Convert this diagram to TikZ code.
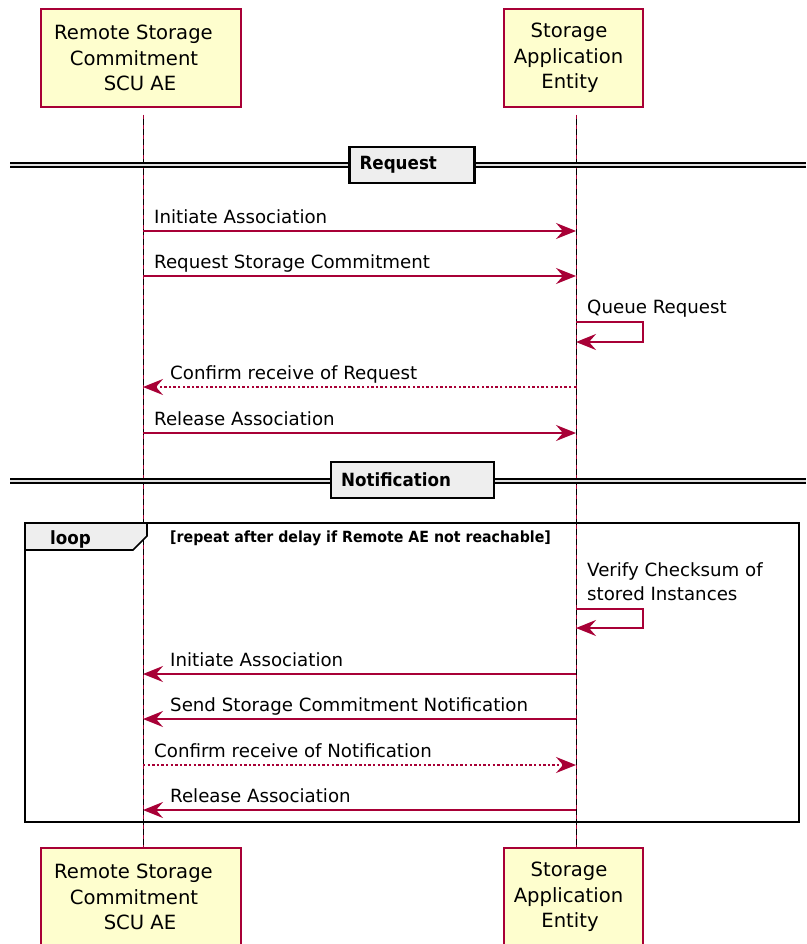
\documentclass[tikz,border=0pt]{standalone}
\usepackage{fontspec}
\setmainfont{DejaVu Sans}
\newfontfamily\cbold{DejaVu Sans Bold}[FakeStretch=0.92]
\usetikzlibrary{arrows.meta}
\definecolor{pu}{HTML}{A80036}
\definecolor{pfill}{HTML}{FEFECE}
\definecolor{dgray}{HTML}{EEEEEE}
\newcommand{\trail}[1]{\rule{#1}{0pt}}
\begin{document}
\begin{tikzpicture}[x=1pt,y=-1pt,
  part/.style={draw=pu, fill=pfill, line width=1.6pt, minimum height=98pt, align=center,
    font=\fontsize{19.6}{25.5}\selectfont, inner sep=0pt},
  lbl/.style={font=\fontsize{18.2}{21}\selectfont, inner sep=0pt, anchor=base west},
  msg/.style={draw=pu, line width=1.5pt, -{Stealth[length=20pt,width=16pt,inset=7pt]}},
  rmsg/.style={msg, dash pattern=on 2.4pt off 2.2pt},
  divbox/.style={draw=black, fill=dgray, line width=2.5pt, minimum height=36pt, inner xsep=10pt,
    align=left, font=\cbold\fontsize{18.2}{21}\selectfont, inner ysep=0pt},
  lifeblack/.style={draw=black, line width=1pt},
  lifered/.style={draw=pu, line width=1pt, dash pattern=on 4pt off 6pt}
]
\useasboundingbox (0,0) rectangle (806,944);
\clip (0,0) rectangle (806,944);
\fill[white] (0,0) rectangle (806,944);

% lifelines
\coordinate (la0) at (143,115);
\coordinate (la1) at (143,848);
\coordinate (lb0) at (576,115);
\coordinate (lb1) at (576,848);
\draw[lifeblack] (la0) -- (la1);
\draw[lifered] (la0) -- (la1);
\draw[lifeblack] (lb0) -- (lb1);
\draw[lifered] (lb0) -- (lb1);

% participants
\node[part, minimum width=200pt] (A) at (141,58) {Remote Storage\trail{15pt}\\Commitment\trail{14pt}\\SCU AE\trail{2pt}};
\node[part, minimum width=139pt] (B) at (573.5,58) {Storage\trail{9pt}\\Application\trail{10pt}\\Entity\trail{7pt}};
\node[part, minimum width=200pt] (A2) at (141,897) {Remote Storage\trail{15pt}\\Commitment\trail{14pt}\\SCU AE\trail{2pt}};
\node[part, minimum width=139pt] (B2) at (573.5,897) {Storage\trail{9pt}\\Application\trail{10pt}\\Entity\trail{7pt}};

% divider: Request
\coordinate (d1l) at (10,163);
\coordinate (d1r) at (806,163);
\coordinate (d1l2) at (10,167);
\coordinate (d1r2) at (806,167);
\fill[gray!25] (d1l) rectangle (d1r2);
\draw[line width=1.2pt] (d1l) -- (d1r);
\draw[line width=1.2pt] (d1l2) -- (d1r2);
\node[divbox, text width=105pt] (req) at (412,165) {Request};

% messages part 1
\coordinate (a1) at (143,231); \coordinate (b1) at (576,231);
\draw[msg] (a1) -- (b1);
\node[lbl] (t1) at (154,223) {Initiate Association};

\coordinate (a2) at (143,276); \coordinate (b2) at (576,276);
\draw[msg] (a2) -- (b2);
\node[lbl] (t2) at (154,268) {Request Storage Commitment};

\coordinate (s1a) at (576,322); \coordinate (s1b) at (643,322);
\coordinate (s1c) at (643,342); \coordinate (s1d) at (576,342);
\draw[msg] (s1a) -- (s1b) -- (s1c) -- (s1d);
\node[lbl] (t3) at (587,313) {Queue Request};

\coordinate (a4) at (143,387); \coordinate (b4) at (576,387);
\draw[rmsg] (b4) -- (a4);
\node[lbl] (t4) at (170,379) {Confirm receive of Request};

\coordinate (a5) at (143,433); \coordinate (b5) at (576,433);
\draw[msg] (a5) -- (b5);
\node[lbl] (t5) at (154,425) {Release Association};

% divider: Notification
\coordinate (d2l) at (10,479);
\coordinate (d2r) at (806,479);
\coordinate (d2l2) at (10,483);
\coordinate (d2r2) at (806,483);
\fill[gray!25] (d2l) rectangle (d2r2);
\draw[line width=1.2pt] (d2l) -- (d2r);
\draw[line width=1.2pt] (d2l2) -- (d2r2);
\node[divbox, text width=143pt] (notif) at (412.5,480) {Notification};

% loop frame
\coordinate (f0) at (25,523);
\coordinate (f1) at (799,822);
\draw[line width=2.5pt] (f0) rectangle (f1);
\draw[line width=1.6pt, fill=dgray] (f0) -- (147,523) -- (147,536) -- (133,550) -- (25,550) -- cycle;
\node[font=\cbold\fontsize{18.2}{21}\selectfont, inner sep=0pt, anchor=base west] (lp) at (50,544) {loop};
\node[font=\cbold\fontsize{15.4}{18}\selectfont, inner sep=0pt, anchor=base west] (guard) at (170,542) {[repeat after delay if Remote AE not reachable]};

% messages part 2
\coordinate (s2a) at (576,609); \coordinate (s2b) at (643,609);
\coordinate (s2c) at (643,628); \coordinate (s2d) at (576,628);
\draw[msg] (s2a) -- (s2b) -- (s2c) -- (s2d);
\node[lbl] (t6) at (587,576) {Verify Checksum of};
\node[lbl] (t6b) at (587,600) {stored Instances};

\coordinate (a7) at (143,674); \coordinate (b7) at (576,674);
\draw[msg] (b7) -- (a7);
\node[lbl] (t7) at (170,666) {Initiate Association};

\coordinate (a8) at (143,719); \coordinate (b8) at (576,719);
\draw[msg] (b8) -- (a8);
\node[lbl] (t8) at (170,711) {Send Storage Commitment Notification};

\coordinate (a9) at (143,765); \coordinate (b9) at (576,765);
\draw[rmsg] (a9) -- (b9);
\node[lbl] (t9) at (154,757) {Confirm receive of Notification};

\coordinate (a10) at (143,810); \coordinate (b10) at (576,810);
\draw[msg] (b10) -- (a10);
\node[lbl] (t10) at (170,802) {Release Association};
\end{tikzpicture}
\end{document}
